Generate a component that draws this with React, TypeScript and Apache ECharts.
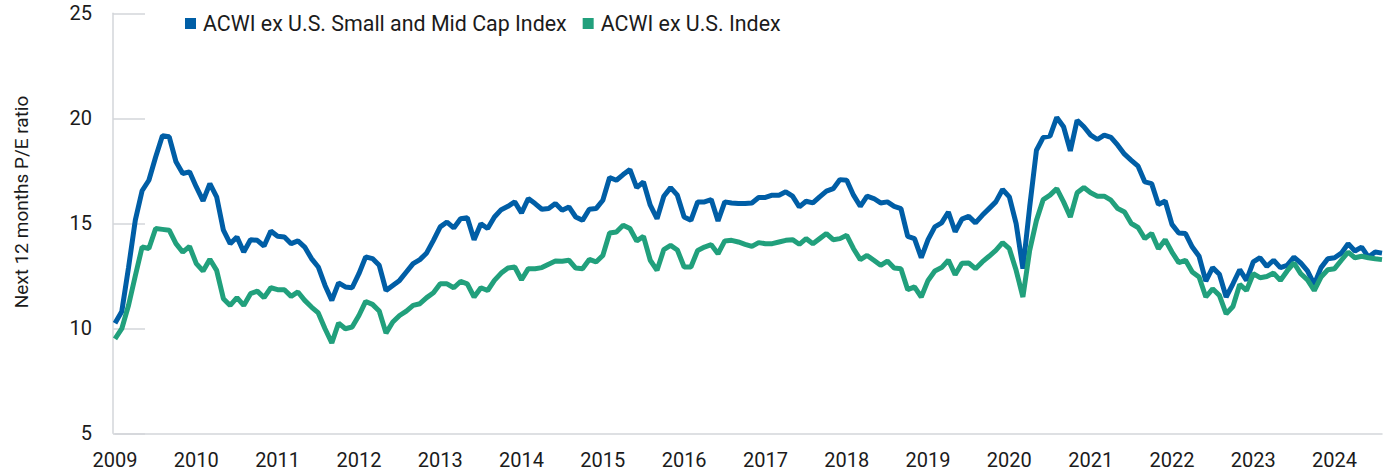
import React, { useEffect, useRef } from "react";
import * as echarts from "echarts";

const years = [2009, 2010, 2011, 2012, 2013, 2014, 2015, 2016, 2017, 2018, 2019, 2020, 2021, 2022, 2023, 2024];
const monthsLastYear = 8; // data ends Aug 2024

const smidValues = [
  10.24, 10.8, 12.9, 15.15, 16.55, 17.05, 18.16, 19.17, 19.12, 17.93, 17.37, 17.45,
  16.73, 16.07, 16.89, 16.26, 14.67, 14.03, 14.35, 13.63, 14.22, 14.19, 13.92, 14.63,
  14.38, 14.35, 14.03, 14.16, 13.87, 13.32, 12.92, 12.04, 11.33, 12.16, 11.97, 11.93,
  12.6, 13.4, 13.32, 13.0, 11.8, 12.04, 12.28, 12.68, 13.08, 13.27, 13.59, 14.19,
  14.83, 15.06, 14.78, 15.22, 15.26, 14.22, 14.98, 14.75, 15.3, 15.65, 15.81, 16.02,
  15.49, 16.18, 15.94, 15.67, 15.7, 15.94, 15.62, 15.78, 15.3, 15.14, 15.67, 15.7,
  16.1, 17.18, 17.05, 17.32, 17.56, 16.7, 16.97, 15.86, 15.22, 16.29, 16.7, 16.34,
  15.3, 15.14, 16.02, 16.02, 16.13, 15.11, 16.02, 15.97, 15.94, 15.94, 15.97, 16.23,
  16.23, 16.34, 16.34, 16.5, 16.29, 15.78, 16.05, 15.97, 16.26, 16.53, 16.65, 17.08,
  17.05, 16.34, 15.81, 16.29, 16.18, 15.97, 16.02, 15.81, 15.7, 14.38, 14.27, 13.36,
  14.22, 14.83, 15.02, 15.54, 14.6, 15.2, 15.33, 15.02, 15.38, 15.7, 16.02, 16.61,
  16.26, 14.99, 12.84, 15.78, 18.48, 19.09, 19.15, 20.04, 19.6, 18.45, 19.91, 19.6,
  19.2, 18.99, 19.2, 19.09, 18.72, 18.29, 18.0, 17.72, 16.97, 16.89, 15.9, 16.06,
  14.95, 14.54, 14.51, 13.87, 13.43, 12.25, 12.89, 12.57, 11.49, 12.12, 12.79, 12.28,
  13.16, 13.36, 12.95, 13.24, 12.89, 13.0, 13.39, 13.11, 12.73, 12.09, 12.89, 13.31,
  13.36, 13.58, 14.03, 13.68, 13.87, 13.39, 13.63, 13.58,
];

const acwiValues = [
  9.5, 9.98, 11.1, 12.5, 13.87, 13.8, 14.75, 14.71, 14.67, 14.03, 13.63, 13.9,
  13.08, 12.73, 13.29, 12.76, 11.41, 11.09, 11.46, 11.09, 11.65, 11.77, 11.46, 11.93,
  11.84, 11.84, 11.52, 11.73, 11.33, 11.01, 10.73, 9.98, 9.3, 10.25, 9.98, 10.06,
  10.61, 11.28, 11.14, 10.82, 9.77, 10.3, 10.61, 10.82, 11.09, 11.17, 11.46, 11.69,
  12.12, 12.12, 11.93, 12.23, 12.12, 11.49, 11.93, 11.8, 12.28, 12.63, 12.87, 12.92,
  12.31, 12.84, 12.84, 12.89, 13.05, 13.2, 13.19, 13.24, 12.87, 12.84, 13.28, 13.16,
  13.47, 14.54, 14.59, 14.91, 14.75, 14.16, 14.38, 13.24, 12.76, 13.75, 13.95, 13.73,
  12.92, 12.92, 13.71, 13.87, 13.98, 13.55, 14.16, 14.19, 14.11, 14.0, 13.9, 14.08,
  14.03, 14.03, 14.11, 14.19, 14.22, 14.0, 14.27, 14.03, 14.27, 14.51, 14.22, 14.27,
  14.43, 13.79, 13.27, 13.47, 13.24, 13.0, 13.2, 12.87, 12.84, 11.84, 11.97, 11.49,
  12.28, 12.73, 12.89, 13.25, 12.55, 13.1, 13.11, 12.84, 13.16, 13.43, 13.71, 14.08,
  13.79, 12.76, 11.49, 13.71, 15.14, 16.13, 16.34, 16.65, 16.02, 15.3, 16.45, 16.7,
  16.45, 16.29, 16.29, 16.1, 15.7, 15.54, 14.99, 14.8, 14.27, 14.52, 13.79, 14.22,
  13.63, 13.13, 13.24, 12.68, 12.44, 11.49, 11.88, 11.57, 10.69, 11.04, 12.09, 11.8,
  12.6, 12.41, 12.47, 12.63, 12.28, 12.73, 13.11, 12.6, 12.31, 11.8, 12.44, 12.79,
  12.84, 13.24, 13.63, 13.36, 13.43, 13.36, 13.31, 13.27,
];

const yTicks = { min: 5, max: 25, interval: 5 };
const seriesNames = ["ACWI ex U.S. Small and Mid Cap Index", "ACWI ex U.S. Index"];
const seriesColors = ["#005EA6", "#21A07C"];
const yTitle = "Next 12 months P/E ratio";

const months: string[] = [];
years.forEach((y) => {
  const n = y === years[years.length - 1] ? monthsLastYear : 12;
  for (let m = 1; m <= n; m++) months.push(`${y}-${m < 10 ? "0" + m : m}`);
});

const FONT = "Roboto, 'Noto Sans', Arial, sans-serif";
const TEXT = "#1b1b1b";
const AXIS = "#d3d6da";

export default function App() {
  const ref = useRef<HTMLDivElement>(null);
  useEffect(() => {
    if (!ref.current) return;
    const chart = echarts.init(ref.current, null, { renderer: "svg" });
    chart.setOption({
      animation: false,
      backgroundColor: "#ffffff",
      textStyle: { fontFamily: FONT },
      grid: { left: 115, right: 1, top: 13.3, bottom: 37.7, containLabel: false },
      legend: {
        data: seriesNames,
        left: 180,
        top: 8,
        icon: "rect",
        itemWidth: 11,
        itemHeight: 11,
        itemGap: 16,
        textStyle: { fontSize: 21.4, color: TEXT, fontFamily: FONT, padding: [0, 0, 0, 2] },
        selectedMode: false,
      },
      graphic: [
        {
          type: "text",
          x: 21,
          y: 202,
          rotation: Math.PI / 2,
          style: {
            text: yTitle,
            fontSize: 19,
            fontFamily: FONT,
            fill: TEXT,
            align: "center",
            verticalAlign: "middle",
          },
        },
      ],
      xAxis: {
        type: "category",
        data: months,
        boundaryGap: false,
        axisLine: { show: true, lineStyle: { color: AXIS, width: 1.5 } },
        axisTick: { show: false },
        splitLine: { show: false },
        axisLabel: {
          interval: (_i: number, v: string) => v.endsWith("-01"),
          formatter: (v: string) => v.slice(0, 4),
          fontSize: 20,
          lineHeight: 18,
          color: TEXT,
          fontFamily: FONT,
          margin: 18,
        },
      },
      yAxis: {
        type: "value",
        min: yTicks.min,
        max: yTicks.max,
        interval: yTicks.interval,
        offset: 2,
        axisLine: { show: true, lineStyle: { color: AXIS, width: 1.5 } },
        axisTick: { show: true, inside: true, length: 32, lineStyle: { color: AXIS, width: 1.5 } },
        splitLine: { show: false },
        axisLabel: {
          fontSize: 20,
          color: TEXT,
          fontFamily: FONT,
          margin: 21,
          verticalAlign: "middle",
          padding: [16, 0, 0, 0],
        },
      },
      series: [
        {
          name: seriesNames[0],
          type: "line",
          data: smidValues,
          symbol: "none",
          color: seriesColors[0],
          lineStyle: { width: 5, color: seriesColors[0] },
        },
        {
          name: seriesNames[1],
          type: "line",
          data: acwiValues,
          symbol: "none",
          color: seriesColors[1],
          lineStyle: { width: 5, color: seriesColors[1] },
        },
      ],
    });
    return () => chart.dispose();
  }, []);
  return (
    <div
      ref={ref}
      style={{ position: "absolute", left: 0, top: 0, width: 1383, height: 471, background: "#fff" }}
    />
  );
}
